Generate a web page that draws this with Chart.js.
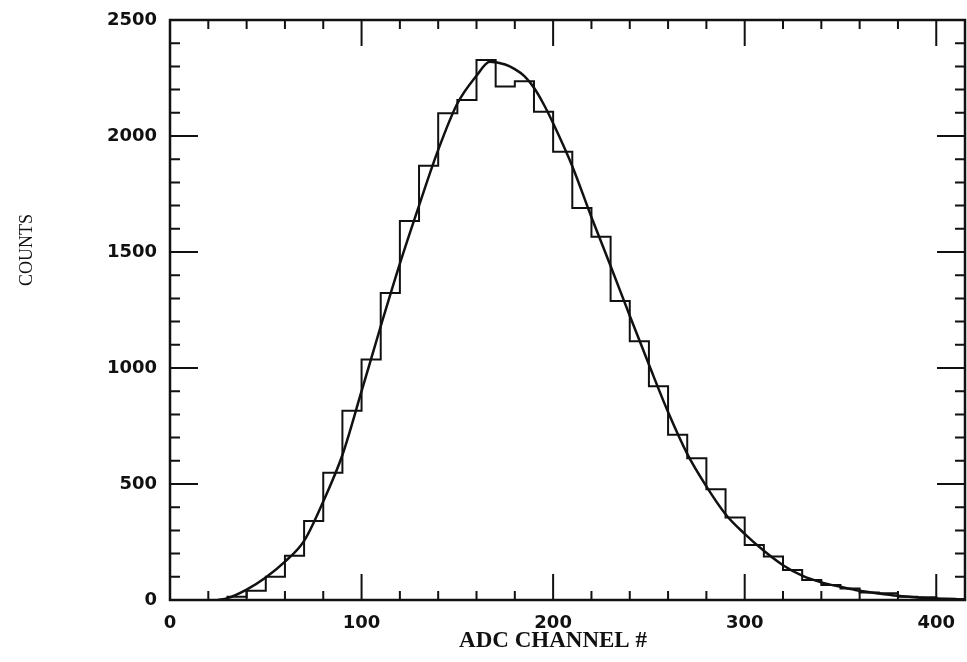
<!DOCTYPE html>
<html>
<head>
<meta charset="utf-8">
<script src="https://cdn.jsdelivr.net/npm/chart.js@4.4.1/dist/chart.umd.min.js"></script>
<style>
  html, body { margin: 0; padding: 0; background: #fff; }
  #wrap { width: 967px; height: 662px; }
</style>
</head>
<body>
<div id="wrap"><canvas id="chart" width="967" height="662"></canvas></div>
<script>
// histogram: left bin edges (width 10) and counts
const binEdges = [30, 40, 50, 60, 70, 80, 90, 100, 110, 120, 130, 140, 150, 160, 170, 180, 190, 200,
                  210, 220, 230, 240, 250, 260, 270, 280, 290, 300, 310, 320, 330, 340, 350, 360,
                  370, 380, 390, 400, 410];
const binCounts = [14, 40, 100, 191, 340, 549, 816, 1037, 1323, 1634, 1872, 2098, 2155, 2328, 2213, 2236, 2105, 1932,
                   1690, 1566, 1289, 1115, 921, 712, 611, 477, 356, 237, 187, 129, 86, 65, 50, 32,
                   29, 14, 12, 5, 3];
const binWidth = 10;

// fitted curve
const fitX = [25, 30, 40, 50, 60, 70, 80, 90, 100, 110, 120, 130, 140, 150, 160, 167, 175, 180, 185, 190, 195, 200,
              210, 220, 230, 240, 250, 260, 270, 280, 290, 300, 310, 320, 330, 340, 350, 360, 370, 380,
              390, 400, 410, 415];
const fitY = [0, 8, 45, 97, 165, 255, 425, 625, 900, 1180, 1450, 1700, 1940, 2140, 2260, 2320, 2308, 2288, 2258, 2208, 2138, 2055,
              1870, 1650, 1440, 1225, 1015, 810, 630, 490, 370, 285, 212, 150, 105, 76, 57, 40, 28, 18,
              11, 6, 3, 2];

// axes
const xMax = 415, yMax = 2500;
const xMajor = 100, xMinor = 20;
const yMajor = 500, yMinor = 100;

const ink = '#111';

// step outline points
const histPoints = [{ x: binEdges[0], y: 0 }];
binEdges.forEach((e, i) => histPoints.push({ x: e, y: binCounts[i] }));
histPoints.push({ x: binEdges[binEdges.length - 1] + binWidth, y: binCounts[binCounts.length - 1] });

const fitPoints = fitX.map((x, i) => ({ x: x, y: fitY[i] }));

// frame + inward ticks on all four sides, plus axis titles
const framePlugin = {
    id: 'frame',
    afterDraw(chart) {
        const { ctx, chartArea: a, scales } = chart;
        const sx = scales.x, sy = scales.y;
        ctx.save();
        ctx.strokeStyle = ink;
        ctx.lineWidth = 2.5;
        ctx.strokeRect(a.left, a.top, a.right - a.left, a.bottom - a.top);

        ctx.lineWidth = 2;
        ctx.beginPath();
        for (let v = 0; v <= xMax; v += xMinor) {
            const px = sx.getPixelForValue(v);
            const len = v % xMajor === 0 ? 26 : 9;
            ctx.moveTo(px, a.bottom); ctx.lineTo(px, a.bottom - len);
            ctx.moveTo(px, a.top); ctx.lineTo(px, a.top + len);
        }
        for (let v = 0; v <= yMax; v += yMinor) {
            const py = sy.getPixelForValue(v);
            const len = v % yMajor === 0 ? 28 : 10;
            ctx.moveTo(a.left, py); ctx.lineTo(a.left + len, py);
            ctx.moveTo(a.right, py); ctx.lineTo(a.right - len, py);
        }
        ctx.stroke();

        ctx.fillStyle = ink;
        ctx.textAlign = 'center';
        ctx.textBaseline = 'middle';
        ctx.font = 'bold 23px "Liberation Serif"';
        ctx.fillText('ADC CHANNEL #', 553, 641);

        ctx.translate(27, 250);
        ctx.rotate(-Math.PI / 2);
        ctx.font = '18px "Liberation Serif"';
        ctx.fillText('COUNTS', 0, 0);
        ctx.restore();
    }
};

new Chart(document.getElementById('chart'), {
    type: 'line',
    data: {
        datasets: [
            {
                label: 'Data',
                data: histPoints,
                stepped: 'before',
                borderColor: ink,
                borderWidth: 2,
                pointRadius: 0,
                fill: false
            },
            {
                label: 'Fit',
                data: fitPoints,
                borderColor: ink,
                borderWidth: 2.5,
                pointRadius: 0,
                tension: 0.4,
                cubicInterpolationMode: 'monotone',
                fill: false
            }
        ]
    },
    options: {
        responsive: false,
        animation: false,
        layout: { padding: { top: 20, right: 2, left: 0, bottom: 0 } },
        plugins: {
            legend: { display: false },
            tooltip: { enabled: false }
        },
        scales: {
            x: {
                type: 'linear',
                min: 0,
                max: xMax,
                afterFit(scale) { scale.height = 62; },
                grid: { display: false },
                border: { display: false },
                ticks: {
                    stepSize: xMajor,
                    includeBounds: false,
                    autoSkip: false,
                    padding: 5,
                    color: ink,
                    font: { family: '"DejaVu Sans"', size: 18, weight: 'bold' },
                    maxRotation: 0,
                    callback: (v) => String(v)
                }
            },
            y: {
                type: 'linear',
                min: 0,
                max: yMax,
                afterFit(scale) { scale.width = 170; },
                grid: { display: false },
                border: { display: false },
                ticks: {
                    stepSize: yMajor,
                    padding: 5,
                    color: ink,
                    font: { family: '"DejaVu Sans"', size: 18, weight: 'bold' },
                    callback: (v) => String(v)
                }
            }
        }
    },
    plugins: [framePlugin]
});
</script>
</body>
</html>
